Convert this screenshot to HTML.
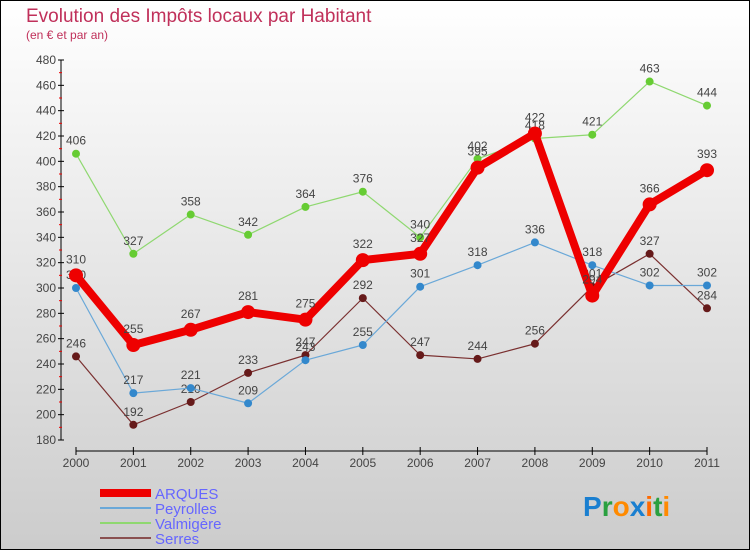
<!DOCTYPE html>
<html><head><meta charset="utf-8"><style>
html,body{margin:0;padding:0}
body{width:750px;height:550px;overflow:hidden;font-family:"Liberation Sans",sans-serif}
</style></head><body>
<svg id="chart" width="750" height="550" xmlns="http://www.w3.org/2000/svg">
<defs><linearGradient id="bg" x1="0" y1="0" x2="0" y2="1"><stop offset="0" stop-color="#ffffff"/><stop offset="1" stop-color="#cccccc"/></linearGradient></defs>
<rect x="0.5" y="0.5" width="749" height="549" fill="url(#bg)" stroke="#000"/>
<text x="26" y="22" font-size="19" fill="#c0305a">Evolution des Impôts locaux par Habitant</text>
<text x="26" y="39" font-size="12" fill="#c0305a">(en € et par an)</text>
<g id="axes"></g>
<g id="series"></g>
<g>
<rect x="100" y="489" width="51" height="8" fill="#e00"/>
<text x="155" y="499" font-size="15" fill="#6666ff">ARQUES</text>
<line x1="100" y1="508" x2="151" y2="508" stroke="#6aa8d8" stroke-width="2"/>
<text x="155" y="514" font-size="15" fill="#6666ff">Peyrolles</text>
<line x1="100" y1="523" x2="151" y2="523" stroke="#8fd870" stroke-width="2"/>
<text x="155" y="529" font-size="15" fill="#6666ff">Valmigère</text>
<line x1="100" y1="538" x2="151" y2="538" stroke="#8a5050" stroke-width="2"/>
<text x="155" y="544" font-size="15" fill="#6666ff">Serres</text>
</g>
<g font-size="28" font-weight="bold">
<text x="583" y="516"><tspan fill="#1a7fd0">P</tspan><tspan fill="#2aa040">r</tspan><tspan fill="#ff8a00">o</tspan><tspan fill="#1a7fd0">x</tspan><tspan fill="#ff6a00">i</tspan><tspan fill="#2aa040">t</tspan><tspan fill="#ff8a00">i</tspan></text>
</g>
</svg>
<script>
const years=["2000","2001","2002","2003","2004","2005","2006","2007","2008","2009","2010","2011"];
const yTicks=[180,200,220,240,260,280,300,320,340,360,380,400,420,440,460,480];
const arques=[310,255,267,281,275,322,327,395,422,294,366,393];
const peyrolles=[300,217,221,209,243,255,301,318,336,318,302,302];
const valmigere=[406,327,358,342,364,376,340,402,418,421,463,444];
const serres=[246,192,210,233,247,292,247,244,256,301,327,284];
const NS="http://www.w3.org/2000/svg";
const x0=76,x1=707,yMin=180,yMax=480,py0=440,py1=60;
function X(i){return x0+(x1-x0)*i/(years.length-1);}
function Y(v){return py0-(v-yMin)*(py0-py1)/(yMax-yMin);}
function mk(t,a,p){const e=document.createElementNS(NS,t);for(const k in a)e.setAttribute(k,a[k]);p.appendChild(e);return e;}
const ax=document.getElementById('axes');
let yl=mk('line',{x1:61,y1:Y(yMax),x2:61,y2:Y(yMin),stroke:'#000'},ax);


yTicks.forEach((v,i)=>{
  mk('line',{x1:58,y1:Y(v),x2:64,y2:Y(v),stroke:'#000'},ax);
  if(i<yTicks.length-1)mk('line',{x1:59,y1:Y(v+10),x2:62,y2:Y(v+10),stroke:'#e00'},ax);
  const t=mk('text',{x:56,y:Y(v)+4,'text-anchor':'end','font-size':12,fill:'#444'},ax);
  
  
  t.textContent=v;
});
let xl=mk('line',{x1:x0,y1:451,x2:x1,y2:451,stroke:'#000'},ax);


years.forEach((y,i)=>{
  mk('line',{x1:X(i),y1:447,x2:X(i),y2:455,stroke:'#000'},ax);
  const t=mk('text',{x:X(i),y:467,'text-anchor':'middle','font-size':12,fill:'#444'},ax);
  
  
  t.textContent=y;
});
const sg=document.getElementById('series');
function series(name,data,color,w,r,dot){
  const g=mk('g',{},sg);
  
  
  const l=mk('polyline',{points:data.map((v,i)=>X(i)+','+Y(v)).join(' '),fill:'none',stroke:color,'stroke-width':w,'stroke-linejoin':'round'},g);
  
  
  data.forEach((v,i)=>{
    const c=mk('circle',{cx:X(i),cy:Y(v),r:r,fill:dot},g);
    
    
    const t=mk('text',{x:X(i),y:Y(v)-r-5,'text-anchor':'middle','font-size':12,fill:'#444'},g);
    
    
    t.textContent=v;
  });
}
series('valmigere',valmigere,'#8fd870',1.2,4,'#66cc33');
series('serres',serres,'#7a3030',1.2,4,'#661a1a');
series('peyrolles',peyrolles,'#6aa8d8',1.2,4,'#3388cc');
series('arques',arques,'#ee0000',8,7,'#ee0000');
</script>
</body></html>
